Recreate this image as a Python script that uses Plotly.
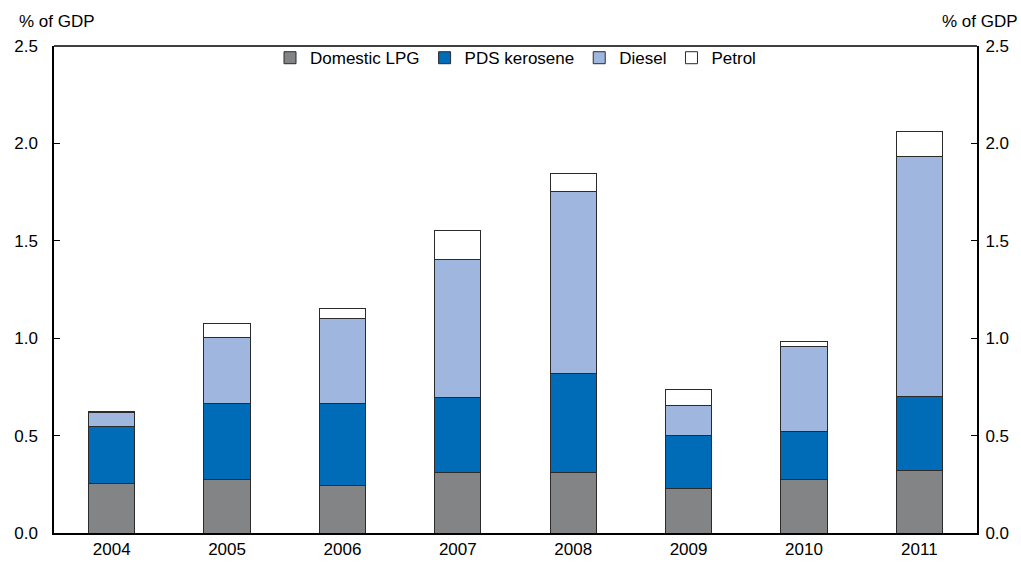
import plotly.graph_objects as go

years = ["2004", "2005", "2006", "2007", "2008", "2009", "2010", "2011"]
lpg = [0.255, 0.275, 0.246, 0.311, 0.311, 0.226, 0.275, 0.320]
kerosene = [0.292, 0.390, 0.421, 0.386, 0.508, 0.277, 0.248, 0.383]
diesel = [0.070, 0.340, 0.434, 0.708, 0.935, 0.150, 0.434, 1.230]
petrol = [0.005, 0.073, 0.049, 0.149, 0.092, 0.084, 0.028, 0.129]

series = [
    ("Domestic LPG", lpg, "#838485"),
    ("PDS kerosene", kerosene, "#006BB6"),
    ("Diesel", diesel, "#9FB7DE"),
    ("Petrol", petrol, "#FFFFFF"),
]

FONT = "Liberation Sans, Arial, sans-serif"
FS = 17

fig = go.Figure()
for name, vals, color in series:
    fig.add_trace(go.Bar(
        x=years, y=vals, name=name, width=0.4,
        marker=dict(color=color, line=dict(color="#2b2b2b", width=1)),
    ))

# invisible trace so the right-hand axis is drawn
fig.add_trace(go.Scatter(x=years, y=[None] * len(years), yaxis="y2",
                         showlegend=False, hoverinfo="skip"))

axis_common = dict(
    range=[0, 2.5], tickvals=[0, 0.5, 1.0, 1.5, 2.0, 2.5],
    ticktext=["0.0", "0.5", "1.0", "1.5", "2.0", "2.5"],
    ticks="inside", ticklen=6, tickwidth=1, tickcolor="#000",
    showgrid=False, zeroline=False, showline=True, linecolor="#000",
    tickfont=dict(family=FONT, size=FS, color="#000"), automargin=False,
)

fig.update_layout(
    width=1021, height=566,
    margin=dict(l=54, r=44, t=46, b=33),
    plot_bgcolor="#fff", paper_bgcolor="#fff",
    barmode="stack", bargap=0.6,
    font=dict(family=FONT, size=FS, color="#000"),
    xaxis=dict(showline=True, linecolor="#000", linewidth=2, mirror=False,
               ticks="", showgrid=False, automargin=False,
               tickfont=dict(family=FONT, size=FS, color="#000")),
    yaxis=dict(**axis_common, linewidth=1.5, ticklabelstandoff=11),
    yaxis2=dict(**axis_common, linewidth=2, overlaying="y", side="right",
                ticklabelstandoff=3),
    legend=dict(orientation="h", x=0.5, xanchor="center", y=1.012, yanchor="top",
                font=dict(family=FONT, size=FS, color="#000"),
                bgcolor="rgba(0,0,0,0)", traceorder="normal",
                itemwidth=30),
    shapes=[dict(type="line", xref="paper", yref="paper", x0=0, x1=1, y0=1, y1=1,
                 line=dict(color="#000", width=1.5))],
    annotations=[
        dict(text="% of GDP", xref="paper", yref="paper", x=-0.04, y=1.0,
             xanchor="left", yanchor="bottom", yshift=13, showarrow=False,
             font=dict(family=FONT, size=FS, color="#000")),
        dict(text="% of GDP", xref="paper", yref="paper", x=1.047, y=1.0,
             xanchor="right", yanchor="bottom", yshift=13, showarrow=False,
             font=dict(family=FONT, size=FS, color="#000")),
    ],
)

fig.write_html("out.html")
